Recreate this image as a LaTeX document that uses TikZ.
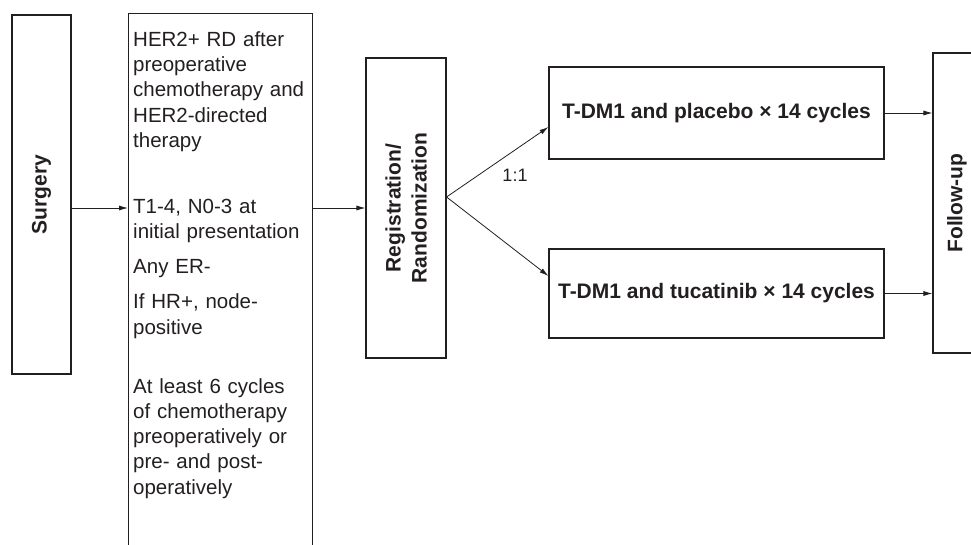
\documentclass[tikz,border=0pt]{standalone}
\usepackage{fontspec}
\setmainfont{Liberation Sans}
\usetikzlibrary{arrows.meta,positioning}
\definecolor{ink}{HTML}{231F20}
\tikzset{
  box/.style={draw=ink, line width=1.1pt, inner sep=0pt},
  arr/.style={draw=ink, line width=0.8pt, -{Latex[length=9pt,width=5pt]}},
  boldtxt/.style={font=\fontsize{21}{26}\selectfont\bfseries, text=ink},
  plaintxt/.style={font=\fontsize{20.5}{25.3}\selectfont, text=ink},
}
\begin{document}
\begin{tikzpicture}[x=1pt,y=-1pt]
\clip (0,0) rectangle (971,544);
%\draw[gray,very thin] (0,0) grid[step=50pt] (971,544);
\node[box, minimum width=59pt, minimum height=359pt,
  label={[boldtxt,rotate=90]center:Surgery}] (surg) at (41.5,194.5) {};
\node[box, anchor=north west, minimum width=184pt, minimum height=600pt] (crit) at (128,13) {};
\node[plaintxt, anchor=north west, inner sep=0pt, text width=178pt, align=left] (crittxt) at (133,28.3)
  {\strut HER2+ RD after\\ preoperative\\ chemotherapy and\\ HER2-directed\\ therapy\\[40.7pt]
   T1-4, N0-3 at\\ initial presentation\\[9.7pt]
   Any ER-\\[9.7pt]
   If HR+, node-\\ positive\\[33.7pt]
   At least 6 cycles\\ of chemotherapy\\ preoperatively or\\ pre- and post-\\ operatively};
\node[box, minimum width=80pt, minimum height=300pt,
  label={[boldtxt,rotate=90,align=center]center:Registration/\\Randomization}] (reg) at (406,208) {};
\node[box, boldtxt, minimum width=335pt, minimum height=92pt] (arm1) at (716.5,113) {T-DM1 and placebo × 14 cycles};
\node[box, boldtxt, minimum width=335pt, minimum height=89pt] (arm2) at (716.5,293.5) {T-DM1 and tucatinib × 14 cycles};
\node[box, minimum width=48pt, minimum height=300pt,
  label={[boldtxt,rotate=90]center:Follow-up}] (fu) at (957,203) {};
% connectors
\draw[arr] (surg.east |- reg.west) -- (crit.west |- reg.west);
\draw[arr] (crit.east |- reg.west) -- (reg.west);
\coordinate (fork) at ([yshift=11pt]reg.east);
\draw[arr] (fork) -- ([yshift=-14pt]arm1.west);
\draw[arr] (fork) -- ([yshift=17.5pt]arm2.west);
\node[font=\fontsize{18}{22}\selectfont, text=ink] (ratio) at (515,175) {1:1};
\draw[arr] (arm1.east) -- (arm1.east -| fu.west);
\draw[arr] (arm2.east) -- (arm2.east -| fu.west);
\end{tikzpicture}
\end{document}
